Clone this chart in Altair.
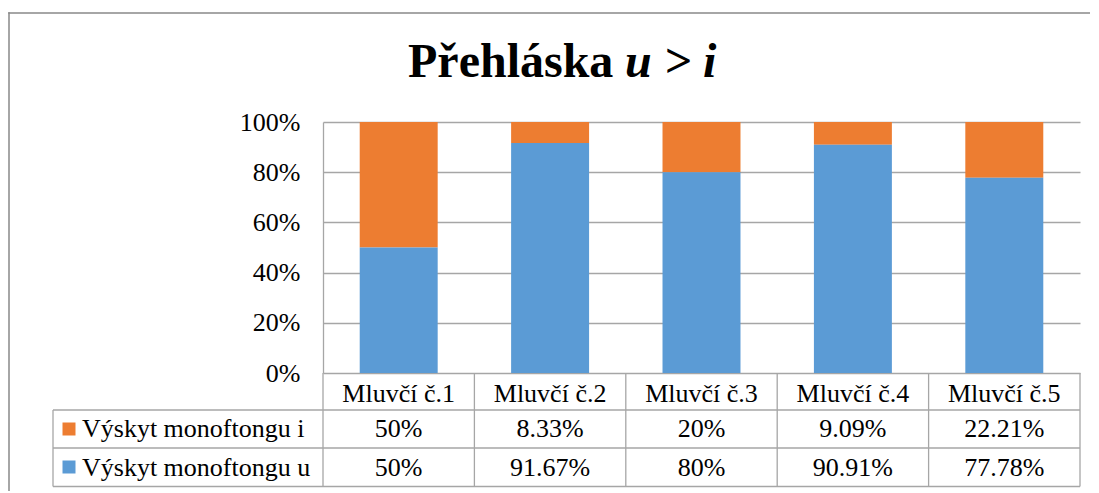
import altair as alt
import pandas as pd

# ---- data ----
speakers = ["Mluvčí č.1", "Mluvčí č.2", "Mluvčí č.3", "Mluvčí č.4", "Mluvčí č.5"]
series = ["Výskyt monoftongu i", "Výskyt monoftongu u"]
values_i = [50, 8.33, 20, 9.09, 22.21]
values_u = [50, 91.67, 80, 90.91, 77.78]
labels_i = ["50%", "8.33%", "20%", "9.09%", "22.21%"]
labels_u = ["50%", "91.67%", "80%", "90.91%", "77.78%"]
colors = ["#ED7D31", "#5B9BD5"]
y_ticks = [0, 20, 40, 60, 80, 100]
title_main = "Přehláska"
title_italic = "u > i"

rows = []
for s, vi, vu, li, lu in zip(speakers, values_i, values_u, labels_i, labels_u):
    rows.append({"speaker": s, "series": series[0], "value": vi, "label": li, "ord": 1})
    rows.append({"speaker": s, "series": series[1], "value": vu, "label": lu, "ord": 0})
df = pd.DataFrame(rows)
df_sp = pd.DataFrame({"speaker": speakers})
df_leg = pd.DataFrame({"series": series})

W, H = 757, 251
FONT = "Liberation Serif"
LINE = "#a6a6a6"
FS = 26

xenc = alt.X("speaker:N", sort=speakers, title=None,
             scale=alt.Scale(paddingInner=0, paddingOuter=0))

bars = alt.Chart(df).mark_bar(width={"band": 0.515}).encode(
    x=xenc,
    y=alt.Y("value:Q", stack="zero", title=None,
            scale=alt.Scale(domain=[0, 100], nice=False),
            axis=alt.Axis(values=y_ticks, labelExpr="datum.value + '%'")),
    color=alt.Color("series:N", scale=alt.Scale(domain=series, range=colors), legend=None),
    order=alt.Order("ord:Q"),
)

# table vertical lines at category boundaries
vlines = alt.Chart(df_sp).mark_rule(color=LINE, strokeWidth=1.3).encode(
    x=alt.X("speaker:N", sort=speakers, title=None, bandPosition=0,
            scale=alt.Scale(paddingInner=0, paddingOuter=0)),
    y=alt.value(H), y2=alt.value(364.5),
)
right_edge = alt.Chart(df_sp.head(1)).mark_rule(color=LINE, strokeWidth=1.3).encode(
    x=alt.value(W), y=alt.value(H), y2=alt.value(364.5))
left_edge = alt.Chart(df_sp.head(1)).mark_rule(color=LINE, strokeWidth=1.3).encode(
    x=alt.value(-270), y=alt.value(288), y2=alt.value(364.5))
h1 = alt.Chart(df_sp.head(1)).mark_rule(color=LINE, strokeWidth=1.3).encode(
    x=alt.value(-270), x2=alt.value(W), y=alt.value(288))
h2 = alt.Chart(df_sp.head(1)).mark_rule(color=LINE, strokeWidth=1.3).encode(
    x=alt.value(-270), x2=alt.value(W), y=alt.value(326))
h3 = alt.Chart(df_sp.head(1)).mark_rule(color=LINE, strokeWidth=1.3).encode(
    x=alt.value(-270), x2=alt.value(W), y=alt.value(364.5))

# outer chart border (thin filled rects)
border_top = alt.Chart(df_sp.head(1)).mark_rect(color="#888888", strokeWidth=0).encode(
    x=alt.value(-314.75), x2=alt.value(767), y=alt.value(-109.75), y2=alt.value(-108.25))
border_left = alt.Chart(df_sp.head(1)).mark_rect(color="#888888", strokeWidth=0).encode(
    x=alt.value(-314.75), x2=alt.value(-313.25), y=alt.value(-109.75), y2=alt.value(400))

# table values
row_i = alt.Chart(df).transform_filter(alt.datum.series == series[0]).mark_text(
    font=FONT, fontSize=FS, color="black", baseline="alphabetic").encode(
    x=xenc, y=alt.value(315), text="label:N")
row_u = alt.Chart(df).transform_filter(alt.datum.series == series[1]).mark_text(
    font=FONT, fontSize=FS, color="black", baseline="alphabetic").encode(
    x=xenc, y=alt.value(354), text="label:N")

# legend inside table
sw_i = alt.Chart(df_leg).transform_filter(alt.datum.series == series[0]).mark_square(
    size=169, opacity=1, filled=True).encode(
    x=alt.value(-254), y=alt.value(307),
    color=alt.Color("series:N", scale=alt.Scale(domain=series, range=colors), legend=None))
sw_u = alt.Chart(df_leg).transform_filter(alt.datum.series == series[1]).mark_square(
    size=169, opacity=1, filled=True).encode(
    x=alt.value(-254), y=alt.value(345),
    color=alt.Color("series:N", scale=alt.Scale(domain=series, range=colors), legend=None))
lt_i = alt.Chart(df_leg).transform_filter(alt.datum.series == series[0]).mark_text(
    font=FONT, fontSize=FS, color="black", align="left", baseline="alphabetic").encode(
    x=alt.value(-241), y=alt.value(315), text="series:N")
lt_u = alt.Chart(df_leg).transform_filter(alt.datum.series == series[1]).mark_text(
    font=FONT, fontSize=FS, color="black", align="left", baseline="alphabetic").encode(
    x=alt.value(-241), y=alt.value(354), text="series:N")

# title
t1 = alt.Chart(pd.DataFrame({"t": [title_main]})).mark_text(
    font=FONT, fontSize=48, fontWeight="bold", color="black", align="left",
    baseline="alphabetic").encode(x=alt.value(85), y=alt.value(-45), text="t:N")
t2 = alt.Chart(pd.DataFrame({"t": [title_italic]})).mark_text(
    font=FONT, fontSize=48, fontWeight="bold", fontStyle="italic", color="black",
    align="left", baseline="alphabetic").encode(x=alt.value(302), y=alt.value(-45), text="t:N")

chart = alt.layer(
    border_top, border_left, bars, vlines, right_edge, left_edge, h1, h2, h3,
    row_i, row_u, sw_i, sw_u, lt_i, lt_u, t1, t2,
).properties(
    width=W, height=H,
    padding={"left": 315, "top": 114, "right": 11, "bottom": 118},
    autosize=alt.AutoSizeParams(type="none"),
    background="white",
).configure_view(stroke=None).configure_axis(
    labelFont=FONT, labelFontSize=FS, labelColor="black",
    ticks=False, tickSize=0,
).configure_axisX(
    domain=False, grid=False, labelAngle=0, labelPadding=7, labelBaseline="top",
).configure_axisY(
    domain=True, domainColor=LINE, domainWidth=1.3, grid=True, gridColor=LINE,
    gridWidth=1.3, labelPadding=23,
)

chart.save("out.html", embed_options={"renderer": "svg", "actions": False})
